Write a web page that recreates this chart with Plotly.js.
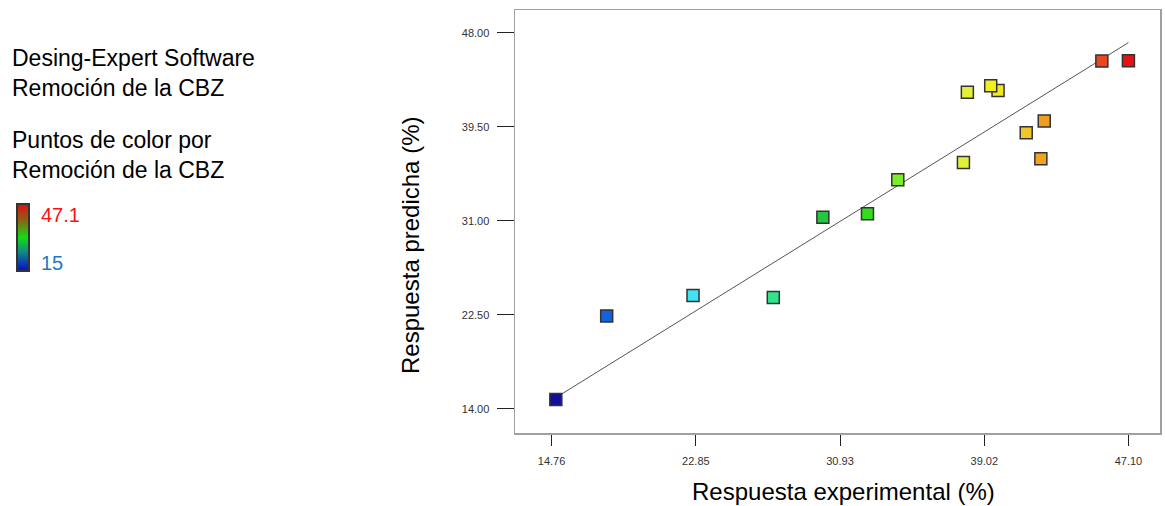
<!DOCTYPE html>
<html>
<head>
<meta charset="utf-8">
<script src="https://cdn.plot.ly/plotly-3.0.1.min.js"></script>
<style>html,body{margin:0;padding:0;background:#fff;}#chart{width:1165px;height:506px;}</style>
</head>
<body>
<div id="chart"></div>
<script>
// Experimental (actual) removal % and model-predicted removal %
const actual    = [15.00, 17.85, 22.69, 27.19, 29.97, 32.47, 34.17, 37.85, 38.07, 39.79, 39.38, 41.37, 42.38, 42.19, 45.61, 47.10];
const predicted = [14.82, 22.38, 24.24, 24.06, 31.32, 31.62, 34.69, 36.26, 42.62, 42.76, 43.19, 38.94, 40.02, 36.59, 45.44, 45.47];
const diagX = [15.00, 47.10];
const diagY = [15.00, 47.10];
const xTickVals = [14.76, 22.85, 30.93, 39.02, 47.10];
const xTickText = ["14.76", "22.85", "30.93", "39.02", "47.10"];
const yTickVals = [48.00, 39.50, 31.00, 22.50, 14.00];
const yTickText = ["48.00", "39.50", "31.00", "22.50", "14.00"];
const colorMin = 15;
const colorMax = 47.1;

// layout helpers: pixel -> paper
const W = 1165, H = 506;
const M = {l: 515, r: 5, t: 10, b: 73};
const PW = W - M.l - M.r, PH = H - M.t - M.b;
const px = x => (x - M.l) / PW;
const py = y => (H - M.b - y) / PH;

const pointScale = [
  [0, '#10109c'], [0.09, '#1462dc'], [0.24, '#40e4f0'], [0.38, '#30e48c'],
  [0.47, '#20c83c'], [0.545, '#34dc1e'], [0.6, '#7cf028'], [0.71, '#e2f03c'],
  [0.76, '#f0f020'], [0.82, '#f0c828'], [0.85, '#f0a020'], [0.955, '#e84620'],
  [1, '#e41414']
];
const barScale = [
  [0, '#0a0ac8'], [0.28, '#108888'], [0.5, '#12dc12'], [0.75, '#8a6414'], [1, '#dc1010']
];

const traces = [
  {
    x: diagX, y: diagY, mode: 'lines', type: 'scatter',
    line: {color: '#555', width: 1}, hoverinfo: 'skip', showlegend: false
  },
  {
    x: actual, y: predicted, mode: 'markers', type: 'scatter', showlegend: false,
    marker: {
      symbol: 'square', size: 12,
      color: actual, cmin: colorMin, cmax: colorMax, colorscale: pointScale,
      showscale: false,
      line: {color: '#333', width: 1.5}
    }
  },
  {
    x: [null, null], y: [null, null], mode: 'markers', type: 'scatter', showlegend: false,
    hoverinfo: 'skip',
    marker: {
      color: [colorMin, colorMax], cmin: colorMin, cmax: colorMax, colorscale: barScale,
      showscale: true,
      colorbar: {
        x: px(17), xanchor: 'left', y: py(237.5), yanchor: 'middle',
        thickness: 12, thicknessmode: 'pixels', len: 67, lenmode: 'pixels',
        xpad: 0, ypad: 0, outlinewidth: 2, outlinecolor: '#333',
        showticklabels: false, ticks: ''
      }
    }
  }
];

const fontFam = 'Liberation Sans, Arial, sans-serif';
const layout = {
  width: W, height: H,
  margin: M,
  paper_bgcolor: '#fff', plot_bgcolor: '#fff',
  font: {family: fontFam, color: '#000'},
  xaxis: {
    range: [12.71, 48.87], showgrid: false, zeroline: false,
    showline: true, mirror: true, linecolor: '#a0a0a0', linewidth: 1.5,
    tickmode: 'array', tickvals: xTickVals, ticktext: xTickText,
    ticks: 'outside', ticklen: 11, tickcolor: '#222', tickwidth: 1,
    ticklabelstandoff: 6,
    tickfont: {size: 11, color: '#333', family: fontFam}
  },
  yaxis: {
    range: [11.8, 50.05], showgrid: false, zeroline: false,
    showline: true, mirror: true, linecolor: '#a0a0a0', linewidth: 1.5,
    tickmode: 'array', tickvals: yTickVals, ticktext: yTickText,
    ticks: 'outside', ticklen: 17, tickcolor: '#222', tickwidth: 1,
    ticklabelstandoff: 5,
    tickfont: {size: 11, color: '#333', family: fontFam}
  },
  annotations: [
    {text: 'Desing-Expert Software<br>Remoción de la CBZ', xref: 'paper', yref: 'paper',
     x: px(10), y: py(73), xanchor: 'left', yanchor: 'middle', align: 'left', showarrow: false,
     font: {size: 23, color: '#000', family: fontFam}},
    {text: 'Puntos de color por<br>Remoción de la CBZ', xref: 'paper', yref: 'paper',
     x: px(10), y: py(155), xanchor: 'left', yanchor: 'middle', align: 'left', showarrow: false,
     font: {size: 23, color: '#000', family: fontFam}},
    {text: '47.1', xref: 'paper', yref: 'paper',
     x: px(39), y: py(215), xanchor: 'left', yanchor: 'middle', showarrow: false,
     font: {size: 20, color: '#ff1010', family: fontFam}},
    {text: '15', xref: 'paper', yref: 'paper',
     x: px(39), y: py(263), xanchor: 'left', yanchor: 'middle', showarrow: false,
     font: {size: 20, color: '#1e78c8', family: fontFam}},
    {text: 'Respuesta experimental (%)', xref: 'paper', yref: 'paper',
     x: px(843), y: py(491), xanchor: 'center', yanchor: 'middle', showarrow: false,
     font: {size: 24, color: '#000', family: fontFam}},
    {text: 'Respuesta predicha (%)', xref: 'paper', yref: 'paper',
     x: px(411), y: py(246), xanchor: 'center', yanchor: 'middle', textangle: -90, showarrow: false,
     font: {size: 24, color: '#000', family: fontFam}}
  ]
};

Plotly.newPlot('chart', traces, layout, {staticPlot: true, displayModeBar: false});
</script>
</body>
</html>
